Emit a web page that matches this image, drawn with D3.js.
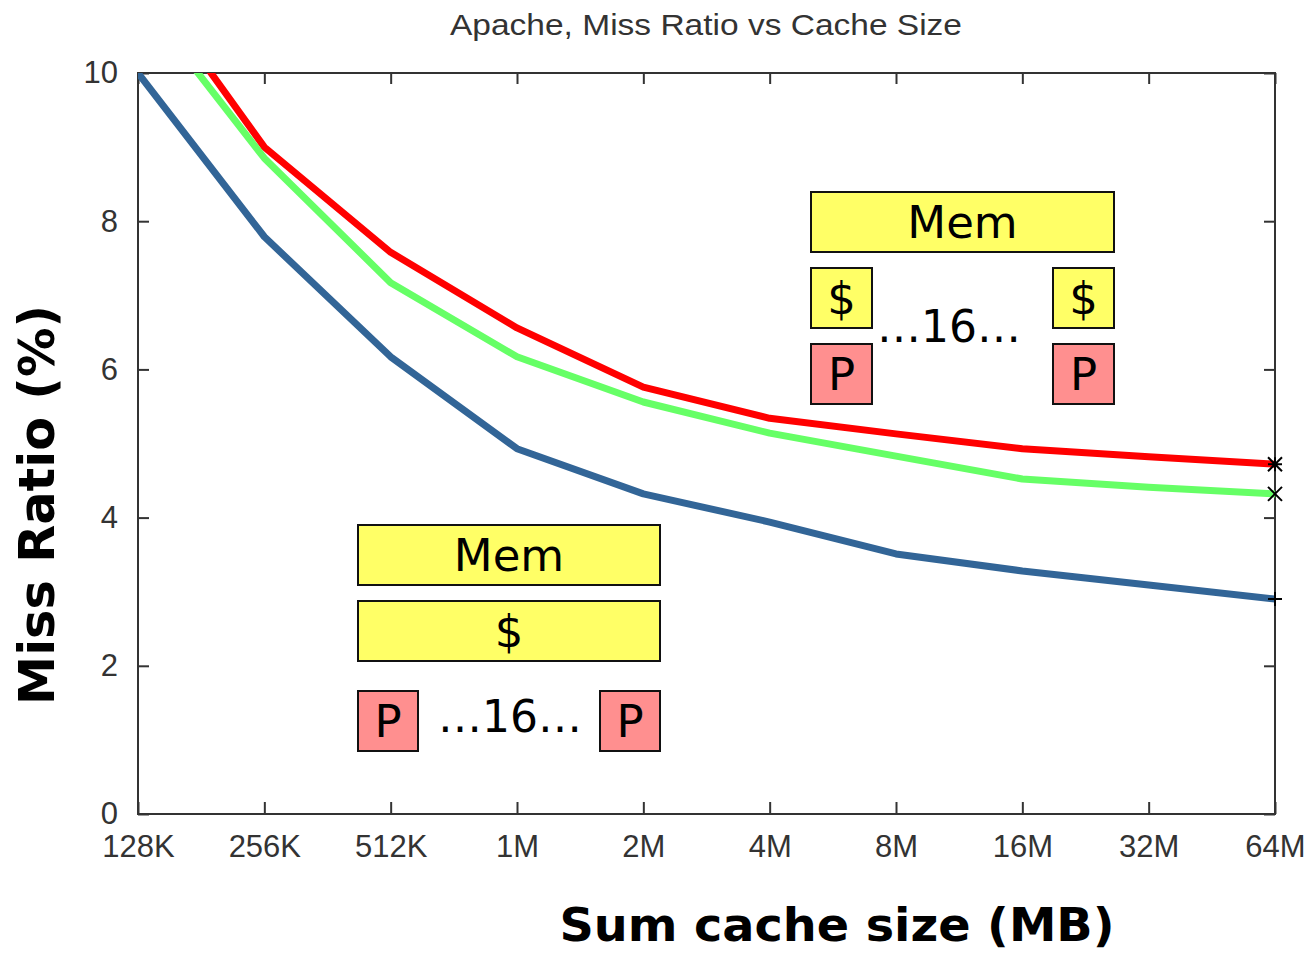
<!DOCTYPE html>
<html>
<head>
<meta charset="utf-8">
<script src="https://cdn.jsdelivr.net/npm/d3@7"></script>
<style>
  body { margin: 0; background: #fff; }
  .tick text { font-family: "Liberation Sans", Arial, sans-serif; font-size: 31px; fill: #333; }
  .tick line { stroke: #333; stroke-width: 2; }
</style>
</head>
<body>
<div id="chart"></div>
<script>

// cache sizes in KB (log2 axis)
const cacheSizes = [128, 256, 512, 1024, 2048, 4096, 8192, 16384, 32768, 65536];
const sizeLabels = ["128K", "256K", "512K", "1M", "2M", "4M", "8M", "16M", "32M", "64M"];
const yTicks = [0, 2, 4, 6, 8, 10];

// miss ratio (%) per series
const missBlue  = [10.0, 7.79, 6.17, 4.93, 4.32, 3.94, 3.51, 3.28, 3.09, 2.90];
const missGreen = [11.04, 8.85, 7.17, 6.17, 5.56, 5.14, 4.83, 4.52, 4.41, 4.32];
const missRed   = [11.37, 9.00, 7.58, 6.56, 5.76, 5.34, 5.13, 4.93, 4.82, 4.72];

const width = 1312, height = 953;
const plot = {left: 138, right: 1275, top: 73, bottom: 814};

const svg = d3.select("#chart").append("svg")
    .attr("width", width)
    .attr("height", height);

const x = d3.scaleLog().base(2)
    .domain([cacheSizes[0], cacheSizes[cacheSizes.length - 1]])
    .range([plot.left, plot.right]);

const y = d3.scaleLinear()
    .domain([0, 10])
    .range([plot.bottom, plot.top]);

// title
svg.append("text")
    .attr("x", 706)
    .attr("y", 35)
    .attr("text-anchor", "middle")
    .attr("textLength", 512)
    .attr("lengthAdjust", "spacingAndGlyphs")
    .style("font-family", "'Liberation Sans', Arial, sans-serif")
    .style("font-size", "30px")
    .style("fill", "#333")
    .text("Apache, Miss Ratio vs Cache Size");

// axes, ticks point inward like gnuplot
svg.append("g")
    .attr("transform", `translate(0, ${plot.bottom})`)
    .call(d3.axisBottom(x)
        .tickValues(cacheSizes)
        .tickFormat((d, i) => sizeLabels[i])
        .tickSizeInner(-12)
        .tickSizeOuter(0)
        .tickPadding(21));

svg.append("g")
    .attr("transform", `translate(0, ${plot.top})`)
    .call(d3.axisTop(x)
        .tickValues(cacheSizes)
        .tickFormat("")
        .tickSizeInner(-11)
        .tickSizeOuter(0));

svg.append("g")
    .attr("transform", `translate(${plot.left}, 0)`)
    .call(d3.axisLeft(y)
        .tickValues(yTicks)
        .tickSizeInner(-11)
        .tickSizeOuter(0)
        .tickPadding(20));

svg.append("g")
    .attr("transform", `translate(${plot.right}, 0)`)
    .call(d3.axisRight(y)
        .tickValues(yTicks)
        .tickFormat("")
        .tickSizeInner(-11)
        .tickSizeOuter(0));

svg.selectAll(".domain").remove();

svg.append("rect")
    .attr("x", plot.left)
    .attr("y", plot.top)
    .attr("width", plot.right - plot.left)
    .attr("height", plot.bottom - plot.top)
    .attr("fill", "none")
    .attr("stroke", "#333")
    .attr("stroke-width", 2);

// lines
svg.append("clipPath")
    .attr("id", "plotClip")
    .append("rect")
    .attr("x", plot.left)
    .attr("y", plot.top)
    .attr("width", plot.right - plot.left)
    .attr("height", plot.bottom - plot.top);

const series = [
    {name: "red", values: missRed, color: "#ff0000", marker: "star"},
    {name: "green", values: missGreen, color: "#66ff66", marker: "cross"},
    {name: "blue", values: missBlue, color: "#326597", marker: "plus"}
];

const line = d3.line()
    .x((d, i) => x(cacheSizes[i]))
    .y(d => y(d));

svg.append("g")
    .attr("clip-path", "url(#plotClip)")
    .selectAll("path")
    .data(series)
    .enter()
    .append("path")
    .attr("d", d => line(d.values))
    .attr("fill", "none")
    .attr("stroke", d => d.color)
    .attr("stroke-width", 7)
    .attr("stroke-linejoin", "round");

// end point markers
const last = cacheSizes.length - 1;
const markerPath = function(kind, cx, cy) {
    let s = 7;
    let plus = `M${cx - s},${cy}L${cx + s},${cy}M${cx},${cy - s}L${cx},${cy + s}`;
    let cross = `M${cx - s},${cy - s}L${cx + s},${cy + s}M${cx - s},${cy + s}L${cx + s},${cy - s}`;
    if (kind === "plus") return plus;
    if (kind === "cross") return cross;
    return plus + cross;
};

svg.append("g")
    .selectAll("path")
    .data(series)
    .enter()
    .append("path")
    .attr("d", d => markerPath(d.marker, x(cacheSizes[last]), y(d.values[last])))
    .attr("stroke", "#000")
    .attr("stroke-width", 2)
    .attr("fill", "none");

// axis titles
svg.append("text")
    .attr("transform", "translate(54, 505) rotate(-90)")
    .attr("text-anchor", "middle")
    .attr("textLength", 400)
    .attr("lengthAdjust", "spacingAndGlyphs")
    .style("font-family", "'DejaVu Sans', Verdana, sans-serif")
    .style("font-weight", "bold")
    .style("font-size", "50px")
    .text("Miss Ratio (%)");

svg.append("text")
    .attr("x", 837)
    .attr("y", 941)
    .attr("text-anchor", "middle")
    .attr("textLength", 555)
    .attr("lengthAdjust", "spacingAndGlyphs")
    .style("font-family", "'DejaVu Sans', Verdana, sans-serif")
    .style("font-weight", "bold")
    .style("font-size", "46px")
    .text("Sum cache size (MB)");

// cache organisation diagrams
const boxFont = "'DejaVu Sans', Verdana, sans-serif";

function box(g, bx, by, bw, bh, fill, label) {
    g.append("rect")
        .attr("x", bx).attr("y", by)
        .attr("width", bw).attr("height", bh)
        .attr("fill", fill)
        .attr("stroke", "#111")
        .attr("stroke-width", 2);
    g.append("text")
        .attr("x", bx + bw / 2)
        .attr("y", by + bh / 2 + 16)
        .attr("text-anchor", "middle")
        .style("font-family", boxFont)
        .style("font-size", "45px")
        .style("fill", "#000")
        .text(label);
}

function dots(g, tx, ty) {
    g.append("text")
        .attr("x", tx).attr("y", ty)
        .attr("text-anchor", "middle")
        .style("font-family", boxFont)
        .style("font-size", "44px")
        .style("fill", "#000")
        .text("…16…");
}

// private caches (top right)
let priv = svg.append("g");
box(priv, 811, 192, 303, 60, "#ffff66", "Mem");
box(priv, 811, 268, 61, 60, "#ffff66", "$");
box(priv, 1053, 268, 61, 60, "#ffff66", "$");
box(priv, 811, 344, 61, 60, "#ff8f8f", "P");
box(priv, 1053, 344, 61, 60, "#ff8f8f", "P");
dots(priv, 949, 342);

// shared cache (bottom left)
let shared = svg.append("g");
box(shared, 358, 525, 302, 60, "#ffff66", "Mem");
box(shared, 358, 601, 302, 60, "#ffff66", "$");
box(shared, 358, 691, 60, 60, "#ff8f8f", "P");
box(shared, 600, 691, 60, 60, "#ff8f8f", "P");
dots(shared, 510, 732);

</script>
</body>
</html>
